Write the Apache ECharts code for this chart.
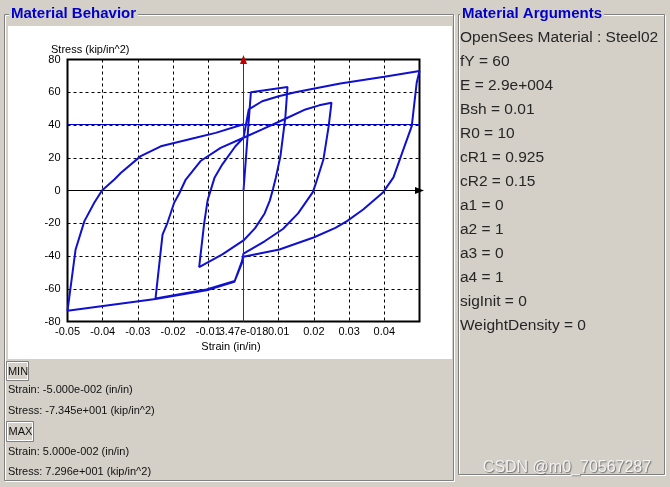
<!DOCTYPE html>
<html><head><meta charset="utf-8">
<script src="https://cdn.jsdelivr.net/npm/echarts@6/dist/echarts.min.js"></script>
<style>html,body{margin:0;padding:0;background:#d4d0c8;overflow:hidden}#c{width:670px;height:487px}</style>
</head><body><div id="c"></div>
<script>
// ---- tick labels ----
const xTickLabels = ['-0.05','-0.04','-0.03','-0.02','-0.01','3.47e-018','0.01','0.02','0.03','0.04',''];
const yTickLabels = ['-80','-60','-40','-20','0','20','40','60','80'];

// ---- hysteresis path, [strain, stress] ----
const initialLoad = [[0,0],[0.0021,60],[0.0125,63.2]];
const unload1 = [[0.0119,45],[0.0105,21],[0.0092,8],[0.0084,1],[0.0075,-6],[0.006,-14],[0.0033,-23],[0,-30.5],[-0.006,-39],[-0.0126,-46.8]];
const reload1 = [[-0.0112,-20.5],[-0.0102,-6],[-0.0092,1],[-0.0082,8],[-0.006,16],[-0.0023,27],[0,32.2],[0.0053,37.3],[0.0119,43.8],[0.0176,49.5],[0.0215,52],[0.025,53.6]];
const unload2 = [[0.0242,39.3],[0.0227,18.9],[0.0205,4],[0.0197,-1],[0.0155,-14],[0.0112,-23.5],[0.006,-31],[0,-38.5],[-0.0004,-43],[-0.0025,-55.3],[-0.0105,-60.5],[-0.025,-66]];
const reload2 = [[-0.023,-27],[-0.0216,-19.7],[-0.0197,-7.5],[-0.0183,-2],[-0.0164,6.7],[-0.0122,18],[-0.0065,26],[0,32.2],[0.0015,49.5],[0.0053,54.5],[0.01,57.6],[0.0147,60],[0.0275,65.3],[0.04,69.5],[0.05,72.96]];
const unload3 = [[0.0492,65.8],[0.0478,39.3],[0.0454,25],[0.0426,8],[0.0397,-1],[0.034,-11.6],[0.0294,-18.7],[0.0261,-22.8],[0.0199,-28.7],[0.0102,-36],[0,-40.5],[-0.0004,-44],[-0.0026,-55.8],[-0.0105,-61],[-0.025,-66.3],[-0.05,-73.45]];
const reload3 = [[-0.0477,-36],[-0.0452,-18.7],[-0.0424,-7.5],[-0.0402,0],[-0.0367,6.7],[-0.0348,10.8],[-0.0292,21],[-0.0235,27],[-0.0136,32.2],[-0.0079,35.2],[0,40.5]];
const currentStress = 40.5;
const stressAxisLine = [[0,-80],[0,80]];   // the y axis drawn at strain 0

// ---- panel texts ----
const argLines = ['OpenSees Material : Steel02','fY = 60','E = 2.9e+004','Bsh = 0.01','R0 = 10','cR1 = 0.925','cR2 = 0.15','a1 = 0','a2 = 1','a3 = 0','a4 = 1','sigInit = 0','WeightDensity = 0'];
const minLines = ['Strain: -5.000e-002 (in/in)','Stress: -7.345e+001 (kip/in^2)'];
const maxLines = ['Strain: 5.000e-002 (in/in)','Stress: 7.296e+001 (kip/in^2)'];

const pathData = [].concat(initialLoad, unload1, reload1, unload2, reload2, unload3, reload3);

const FONT = "'Liberation Sans', Arial, sans-serif";
const GRAY = '#d4d0c8';
const chart = echarts.init(document.getElementById('c'), null, {renderer:'canvas'});

const graphic = [];
function etched(x, y, w, h, z) {
  graphic.push({type:'rect', z:z, silent:true, shape:{x:x+1, y:y+1, width:w, height:h}, style:{fill:null, stroke:'#ffffff', lineWidth:1}});
  graphic.push({type:'rect', z:z+1, silent:true, shape:{x:x, y:y, width:w, height:h}, style:{fill:null, stroke:'#808080', lineWidth:1}});
}
etched(4.5, 14.5, 449, 466, -10);
etched(458.5, 14.5, 206, 460, -10);
graphic.push({type:'rect', z:-5, silent:true, shape:{x:8, y:26, width:444, height:333}, style:{fill:'#ffffff'}});
graphic.push({type:'text', z:-4, x:9, y:14, style:{text:'Material Behavior', font:'bold 15px '+FONT, fill:'#0000c8', verticalAlign:'middle', backgroundColor:GRAY, padding:[0,2,0,2]}});
graphic.push({type:'text', z:-4, x:460, y:14, style:{text:'Material Arguments', font:'bold 15px '+FONT, fill:'#0000c8', verticalAlign:'middle', backgroundColor:GRAY, padding:[0,2,0,2]}});
argLines.forEach(function (t, i) {
  graphic.push({type:'text', z:-4, x:460, y:37.5 + i*24, style:{text:t, font:'15.5px '+FONT, fill:'#262626', verticalAlign:'middle'}});
});
function button(x, y, w, h, label) {
  graphic.push({type:'rect', z:-4, silent:true, shape:{x:x+0.5, y:y+0.5, width:w, height:h}, style:{fill:GRAY, stroke:'#808080', lineWidth:1}});
  graphic.push({type:'rect', z:-3, silent:true, shape:{x:x+1.5, y:y+1.5, width:w-2, height:h-2}, style:{fill:null, stroke:'#ffffff', lineWidth:1}});
  graphic.push({type:'text', z:-2, x:x + w/2 + 1, y:y + h/2 + 1, style:{text:label, font:'11px '+FONT, fill:'#111', align:'center', verticalAlign:'middle'}});
}
button(6, 361, 22, 19, 'MIN');
button(6, 421, 27, 20, 'MAX');
graphic.push({type:'text', z:-4, x:8, y:390, style:{text:minLines[0], font:'11px '+FONT, fill:'#111', verticalAlign:'middle'}});
graphic.push({type:'text', z:-4, x:8, y:411, style:{text:minLines[1], font:'11px '+FONT, fill:'#111', verticalAlign:'middle'}});
graphic.push({type:'text', z:-4, x:8, y:451.5, style:{text:maxLines[0], font:'11px '+FONT, fill:'#111', verticalAlign:'middle'}});
graphic.push({type:'text', z:-4, x:8, y:471.5, style:{text:maxLines[1], font:'11px '+FONT, fill:'#111', verticalAlign:'middle'}});
// axis names
graphic.push({type:'text', z:5, x:51, y:50, style:{text:'Stress (kip/in^2)', font:'11px '+FONT, fill:'#000', verticalAlign:'middle'}});
graphic.push({type:'text', z:5, x:231, y:347, style:{text:'Strain (in/in)', font:'11px '+FONT, fill:'#000', align:'center', verticalAlign:'middle'}});
// watermark
graphic.push({type:'text', z:20, x:567, y:468, style:{text:'CSDN @m0_70567287', font:'16px '+FONT, fill:'#f2f2f2', align:'center', verticalAlign:'middle', textShadowColor:'rgba(90,90,90,0.8)', textShadowBlur:1, textShadowOffsetX:1, textShadowOffsetY:1}});

function refLine(mark, color, sym, z) {
  return {type:'line', data:[], silent:true, animation:false, z:z,
    markLine:{silent:true, animation:false, z:z, symbol:sym, symbolSize:[7,9], label:{show:false},
      lineStyle:{color:color, width:1, type:'solid', opacity:1}, emphasis:{disabled:true}, data:[mark]}};
}

// vertical grid lines: none at strain 0, where the red axis is drawn
const xGridColors = xTickLabels.map(function (t, i) { return i === 5 ? 'rgba(0,0,0,0)' : '#000'; });
const yGridColors = yTickLabels.map(function (t, i) { return i === 4 ? 'rgba(0,0,0,0)' : '#000'; });

chart.setOption({
  backgroundColor: GRAY,
  animation: false,
  textStyle: {fontFamily: FONT},
  grid: {left:67.5, top:59.5, width:352, height:262, show:true, borderColor:'#000', borderWidth:2, backgroundColor:'transparent'},
  xAxis: {type:'value', min:-0.05, max:0.05, interval:0.01,
    axisLine:{show:false}, axisTick:{show:false},
    splitLine:{show:true, lineStyle:{color:xGridColors, width:1, type:[3,3]}},
    axisLabel:{color:'#000', fontSize:11, fontFamily:FONT, margin:5, hideOverlap:false, showMinLabel:true, showMaxLabel:true,
      formatter:function (v, i) { return xTickLabels[i] || ''; }}},
  yAxis: {type:'value', min:-80, max:80, interval:20,
    axisLine:{show:false}, axisTick:{show:false},
    splitLine:{show:true, lineStyle:{color:yGridColors, width:1, type:[3,3]}},
    axisLabel:{color:'#000', fontSize:11, fontFamily:FONT, margin:7, showMinLabel:true, showMaxLabel:true,
      formatter:function (v, i) { return yTickLabels[i] || ''; }}},
  graphic: graphic,
  series: [
    refLine({yAxis:currentStress}, '#0000d0', ['none','none'], 5),
    refLine({yAxis:0}, '#000000', ['none','triangle'], 5),
    {type:'line', data:pathData, showSymbol:false, symbol:'none', smooth:false, animation:false, z:6,
      lineStyle:{color:'#1010d0', width:2}},
    {type:'line', data:stressAxisLine, showSymbol:false, symbol:'none', animation:false, silent:true, z:9,
      lineStyle:{color:'#c00000', width:1}},
    refLine({xAxis:0}, '#c00000', ['none','triangle'], 10)
  ]
});
</script></body></html>
